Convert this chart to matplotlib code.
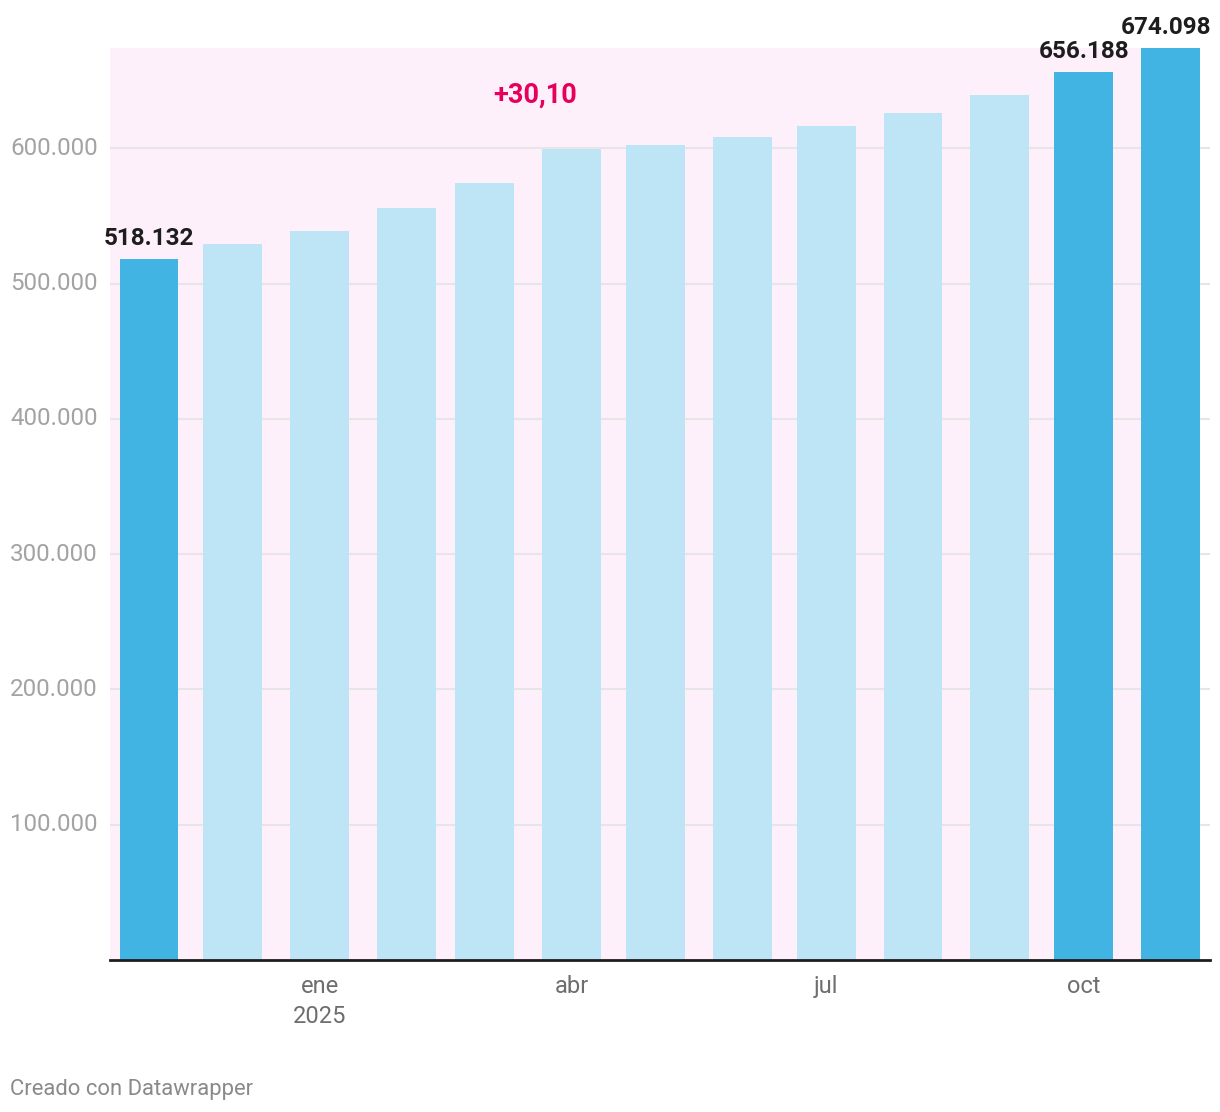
import datetime as dt
import matplotlib
matplotlib.use("Agg")
import matplotlib.pyplot as plt
import matplotlib.dates as mdates
import matplotlib.transforms as mtrans

plt.rcParams['font.family'] = ['Roboto', 'DejaVu Sans']

# monthly values, Nov 2024 .. Nov 2025
months = [dt.date(2024, 11, 1), dt.date(2024, 12, 1), dt.date(2025, 1, 1), dt.date(2025, 2, 1),
          dt.date(2025, 3, 1), dt.date(2025, 4, 1), dt.date(2025, 5, 1), dt.date(2025, 6, 1),
          dt.date(2025, 7, 1), dt.date(2025, 8, 1), dt.date(2025, 9, 1), dt.date(2025, 10, 1),
          dt.date(2025, 11, 1)]
values = [518132, 529100, 538700, 555700, 574100, 599300, 602200, 608100, 616300, 625900,
          639200, 656188, 674098]
highlight = [True, False, False, False, False, False, False, False, False, False, False, True, True]
labelled = {0: "518.132", 11: "656.188", 12: "674.098"}

tick_dates = [dt.date(2025, 1, 1), dt.date(2025, 4, 1), dt.date(2025, 7, 1), dt.date(2025, 10, 1)]
tick_labels = ["ene\n2025", "abr", "jul", "oct"]
y_ticks = [100000, 200000, 300000, 400000, 500000, 600000]
y_labels = ["100.000", "200.000", "300.000", "400.000", "500.000", "600.000"]
change_label = "+30,10"

dark = "#41b4e3"
light = "#bee5f5"
pink_bg = "#fef0fb"

W, H = 1220, 1112
fig = plt.figure(figsize=(W / 100, H / 100), dpi=100, facecolor="white")
ax = fig.add_axes([110 / W, (H - 960) / H, 1100 / W, 912 / H])

x = mdates.date2num(months)
xmin = x[0] - 13.9
xmax = x[-1] + 14.1

# highlighted range behind the bars
ax.fill_between([xmin, x[-1]], 0, values[-1], color=pink_bg, lw=0, zorder=0)

for v in y_ticks:
    ax.axhline(v, color="#e6e6e6", lw=1.5, zorder=1)

colors = [dark if h else light for h in highlight]
ax.bar(x, values, width=21, color=colors, zorder=2)

for i, txt in labelled.items():
    # keep the last label inside the chart area
    dx = -3 if i == len(values) - 1 else 0
    ax.annotate(txt, (x[i], values[i]), xytext=(dx, 6.5), textcoords="offset points",
                ha="center", va="bottom", fontsize=17.5, fontweight="bold", color="#1d1d1d",
                zorder=5, annotation_clip=False)

ax.text((535 - 110) / 1100, (960 - 95) / 912, change_label, transform=ax.transAxes,
        ha="center", va="center", fontsize=19.5, fontweight="bold", color="#e6005c")

ax.set_xlim(xmin, xmax)
ax.set_ylim(0, values[-1])

ax.set_xticks(mdates.date2num(tick_dates))
ax.set_xticklabels(tick_labels, fontsize=17, color="#6e6e6e", linespacing=1.35)
ax.tick_params(axis="x", length=0, pad=11)
ax.set_yticks([])

trans = mtrans.blended_transform_factory(fig.transFigure, ax.transData)
for v, lab in zip(y_ticks, y_labels):
    ax.text(10 / W, v, lab, transform=trans, ha="left", va="center", fontsize=17.4, color="#a3a3a3")

for s in ["top", "right", "left"]:
    ax.spines[s].set_visible(False)
ax.spines["bottom"].set_color("#1d1d1d")
ax.spines["bottom"].set_linewidth(2)
ax.spines["bottom"].set_zorder(4)
ax.set_facecolor("white")

fig.text(10 / W, 1 - 1089 / H, "Creado con Datawrapper", ha="left", va="center",
         fontsize=15.8, color="#8a8a8a")

fig.savefig("out.png", dpi=100, facecolor="white")
